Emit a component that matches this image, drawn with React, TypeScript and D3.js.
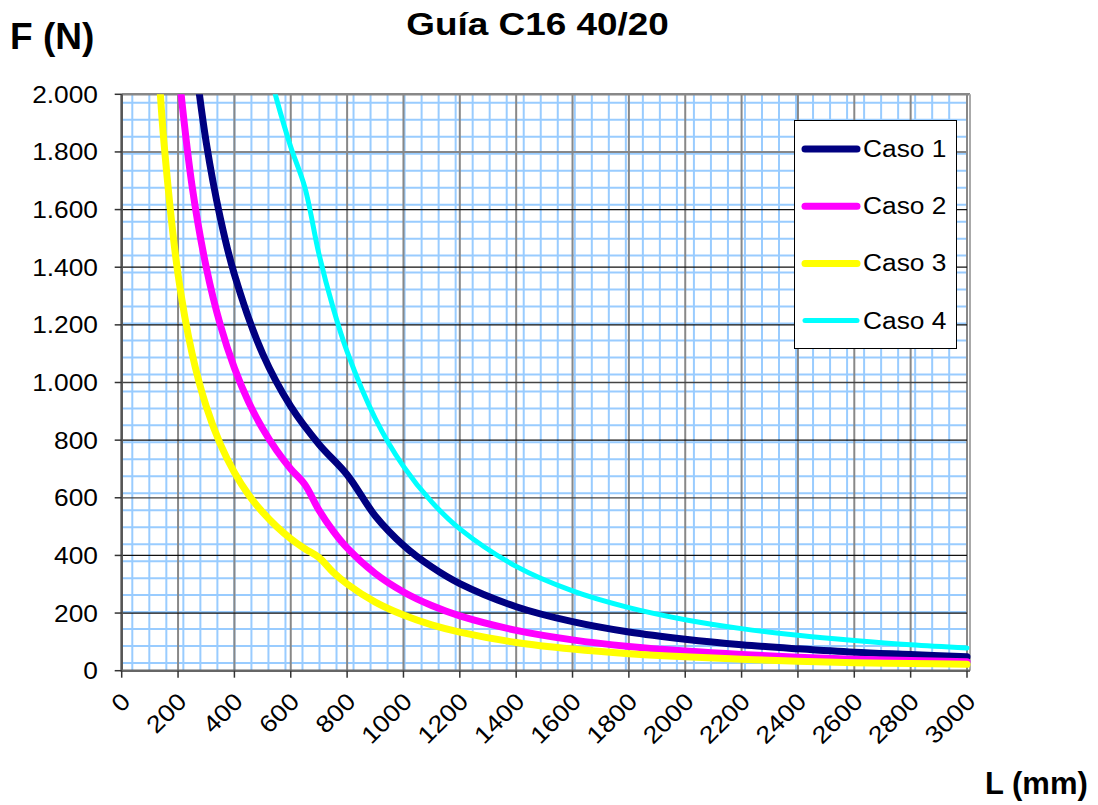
import React, { useEffect, useRef } from 'react';
import * as d3 from 'd3';

// values (L in mm, F in N)
const caso1L = [250, 300, 350, 400, 500, 600, 700, 800, 900, 1000, 1100, 1200, 1400, 1600, 1800, 2000, 2200, 2400, 2600, 2800, 3000];
const caso1F = [2200, 1833, 1571, 1375, 1100, 917, 786, 680, 537, 435, 360, 302, 222, 170, 134, 109, 90, 76, 64, 56, 48];

const caso2L = [200, 250, 300, 350, 400, 450, 500, 550, 600, 650, 700, 750, 800, 900, 1000, 1100, 1200, 1400, 1600, 1800, 2000, 2200, 2400, 2600, 2800, 3000];
const caso2F = [2100, 1680, 1400, 1200, 1050, 933, 840, 764, 700, 646, 557, 485, 426, 337, 273, 226, 190, 140, 107, 84, 68, 56, 47, 40, 35, 31];

const caso3L = [130, 150, 200, 250, 300, 350, 400, 450, 500, 550, 600, 650, 700, 750, 800, 900, 1000, 1100, 1200, 1400, 1600, 1800, 2000, 2200, 2400, 2600, 2800, 3000];
const caso3F = [2115, 1833, 1375, 1100, 917, 786, 688, 611, 550, 500, 458, 423, 393, 342, 301, 238, 193, 159, 134, 98, 75, 59, 48, 40, 33, 28, 25, 22];

const caso4L = [530, 550, 600, 650, 700, 750, 800, 900, 1000, 1100, 1200, 1400, 1600, 1800, 2000, 2200, 2400, 2600, 2800, 3000];
const caso4F = [2057, 1982, 1817, 1677, 1446, 1260, 1107, 875, 709, 586, 492, 362, 277, 219, 177, 146, 123, 105, 90, 79];

const seriesNames = ['Caso 1', 'Caso 2', 'Caso 3', 'Caso 4'];
const seriesColors = ['#000080', '#ff00ff', '#ffff00', '#00ffff'];
const seriesWidths = [7, 7, 7, 5];

const xTickValues = [0, 200, 400, 600, 800, 1000, 1200, 1400, 1600, 1800, 2000, 2200, 2400, 2600, 2800, 3000];
const yTickValues = [0, 200, 400, 600, 800, 1000, 1200, 1400, 1600, 1800, 2000];
const yTickLabels = ['0', '200', '400', '600', '800', '1.000', '1.200', '1.400', '1.600', '1.800', '2.000'];

const App = () => {
  const svgRef = useRef<SVGSVGElement>(null);

  useEffect(() => {
    const width = 1098;
    const height = 805;
    const left = 121.7;
    const right = 967;
    const top = 94.3;
    const bottom = 670.7;
    const sx = 1.12;

    const svg = d3.select(svgRef.current);
    svg.selectAll('*').remove();
    svg.attr('width', width).attr('height', height).style('background', '#fff');

    const x = d3.scaleLinear().domain([0, 3000]).range([left, right]);
    const y = d3.scaleLinear().domain([0, 2000]).range([bottom, top]);

    // light blue paper grid behind the chart
    const blueX = d3.range(0, 49).map((k) => 37.6 + k * 60.4);
    const blueY = d3.range(0, 34).map((k) => 26.7 + k * 58.9);
    const g = svg.append('g');
    g.selectAll('.bx')
      .data(blueX)
      .join('line')
      .attr('x1', (d) => x(d))
      .attr('x2', (d) => x(d))
      .attr('y1', top)
      .attr('y2', bottom)
      .attr('stroke', '#99ccff')
      .attr('stroke-width', 2);
    g.selectAll('.by')
      .data(blueY)
      .join('line')
      .attr('x1', left)
      .attr('x2', right)
      .attr('y1', (d) => y(d))
      .attr('y2', (d) => y(d))
      .attr('stroke', '#99ccff')
      .attr('stroke-width', 2);

    // major grid
    g.selectAll('.vx')
      .data(xTickValues)
      .join('line')
      .attr('x1', (d) => x(d))
      .attr('x2', (d) => x(d))
      .attr('y1', top)
      .attr('y2', bottom)
      .attr('stroke', '#888')
      .attr('stroke-width', 2);
    g.selectAll('.hy')
      .data(yTickValues.slice(1, -1))
      .join('line')
      .attr('x1', left)
      .attr('x2', right)
      .attr('y1', (d) => y(d))
      .attr('y2', (d) => y(d))
      .attr('stroke', (d) => (d === 1800 ? '#888' : d === 1000 || d === 600 ? '#444' : '#111'))
      .attr('stroke-width', (d) => (d === 1800 ? 2 : 1.3));

    // frame
    g.append('line').attr('x1', left).attr('x2', right + 3).attr('y1', top).attr('y2', top).attr('stroke', '#888').attr('stroke-width', 2.5);
    g.append('line').attr('x1', right + 3).attr('x2', right + 3).attr('y1', top).attr('y2', bottom).attr('stroke', '#aaa').attr('stroke-width', 2);
    g.append('line').attr('x1', left).attr('x2', left).attr('y1', top).attr('y2', bottom + 1).attr('stroke', '#555').attr('stroke-width', 2.5);
    g.append('line').attr('x1', left).attr('x2', right + 3).attr('y1', bottom).attr('y2', bottom).attr('stroke', '#666').attr('stroke-width', 2.5);

    // ticks
    g.selectAll('.xt')
      .data(xTickValues)
      .join('line')
      .attr('x1', (d) => x(d))
      .attr('x2', (d) => x(d))
      .attr('y1', bottom)
      .attr('y2', bottom + 7)
      .attr('stroke', '#333')
      .attr('stroke-width', 1.5);
    g.selectAll('.yt')
      .data(yTickValues)
      .join('line')
      .attr('x1', left - 7)
      .attr('x2', left)
      .attr('y1', (d) => y(d))
      .attr('y2', (d) => y(d))
      .attr('stroke', '#333')
      .attr('stroke-width', 1.5);

    const font = 'Liberation Sans, Arial, sans-serif';

    g.selectAll('.yl')
      .data(yTickValues)
      .join('text')
      .attr('transform', (d) => `translate(98,${y(d) + 8.5}) scale(${sx},1)`)
      .attr('text-anchor', 'end')
      .attr('font-family', font)
      .attr('font-size', 23.5)
      .attr('fill', '#000')
      .text((d, i) => yTickLabels[i]);

    g.selectAll('.xl')
      .data(xTickValues)
      .join('text')
      .attr('transform', (d) => `translate(${x(d) + 10},703) rotate(-45) scale(${sx},1)`)
      .attr('text-anchor', 'end')
      .attr('font-family', font)
      .attr('font-size', 24)
      .attr('fill', '#000')
      .text((d) => String(d));

    // curves
    const clipId = 'plotclip';
    svg
      .append('clipPath')
      .attr('id', clipId)
      .append('rect')
      .attr('x', left)
      .attr('y', top)
      .attr('width', right - left + 6)
      .attr('height', bottom - top + 10);

    const line = d3
      .line<[number, number]>()
      .x((d) => x(d[0]))
      .y((d) => y(d[1]))
      .curve(d3.curveCatmullRom.alpha(0.5));

    const series = [
      caso1L.map((l, i) => [l, caso1F[i]] as [number, number]),
      caso2L.map((l, i) => [l, caso2F[i]] as [number, number]),
      caso3L.map((l, i) => [l, caso3F[i]] as [number, number]),
      caso4L.map((l, i) => [l, caso4F[i]] as [number, number]),
    ];

    svg
      .append('g')
      .attr('clip-path', `url(#${clipId})`)
      .selectAll('path')
      .data(series)
      .join('path')
      .attr('d', (d) => line(d))
      .attr('fill', 'none')
      .attr('stroke', (d, i) => seriesColors[i])
      .attr('stroke-width', (d, i) => seriesWidths[i])
      .attr('stroke-linecap', 'round')
      .attr('stroke-linejoin', 'round');

    // legend
    const lg = svg.append('g');
    lg.append('rect')
      .attr('x', 794.5)
      .attr('y', 120.5)
      .attr('width', 162)
      .attr('height', 228)
      .attr('fill', '#fff')
      .attr('stroke', '#000')
      .attr('stroke-width', 1);
    const rowY = (i: number) => 149 + i * 57.2;
    lg.selectAll('.ll')
      .data(seriesNames)
      .join('line')
      .attr('x1', 805)
      .attr('x2', 857)
      .attr('y1', (d, i) => rowY(i))
      .attr('y2', (d, i) => rowY(i))
      .attr('stroke', (d, i) => seriesColors[i])
      .attr('stroke-width', (d, i) => seriesWidths[i])
      .attr('stroke-linecap', 'round');
    lg.selectAll('.lt')
      .data(seriesNames)
      .join('text')
      .attr('transform', (d, i) => `translate(863,${rowY(i) + 8}) scale(${sx},1)`)
      .attr('font-family', font)
      .attr('font-size', 23.5)
      .attr('fill', '#000')
      .text((d) => d);

    // titles
    svg
      .append('text')
      .attr('transform', `translate(537.5,35) scale(1.19,1)`)
      .attr('text-anchor', 'middle')
      .attr('font-family', font)
      .attr('font-weight', 'bold')
      .attr('font-size', 31)
      .text('Guía C16 40/20');
    svg
      .append('text')
      .attr('x', 10)
      .attr('y', 49)
      .attr('font-family', font)
      .attr('font-weight', 'bold')
      .attr('font-size', 37)
      .text('F (N)');
    svg
      .append('text')
      .attr('x', 985)
      .attr('y', 794)
      .attr('font-family', font)
      .attr('font-weight', 'bold')
      .attr('font-size', 31)
      .text('L (mm)');
  }, []);

  return (
    <div>
      <svg ref={svgRef} style={{ position: 'absolute', left: 0, top: 0 }}></svg>
    </div>
  );
};

export default App;
